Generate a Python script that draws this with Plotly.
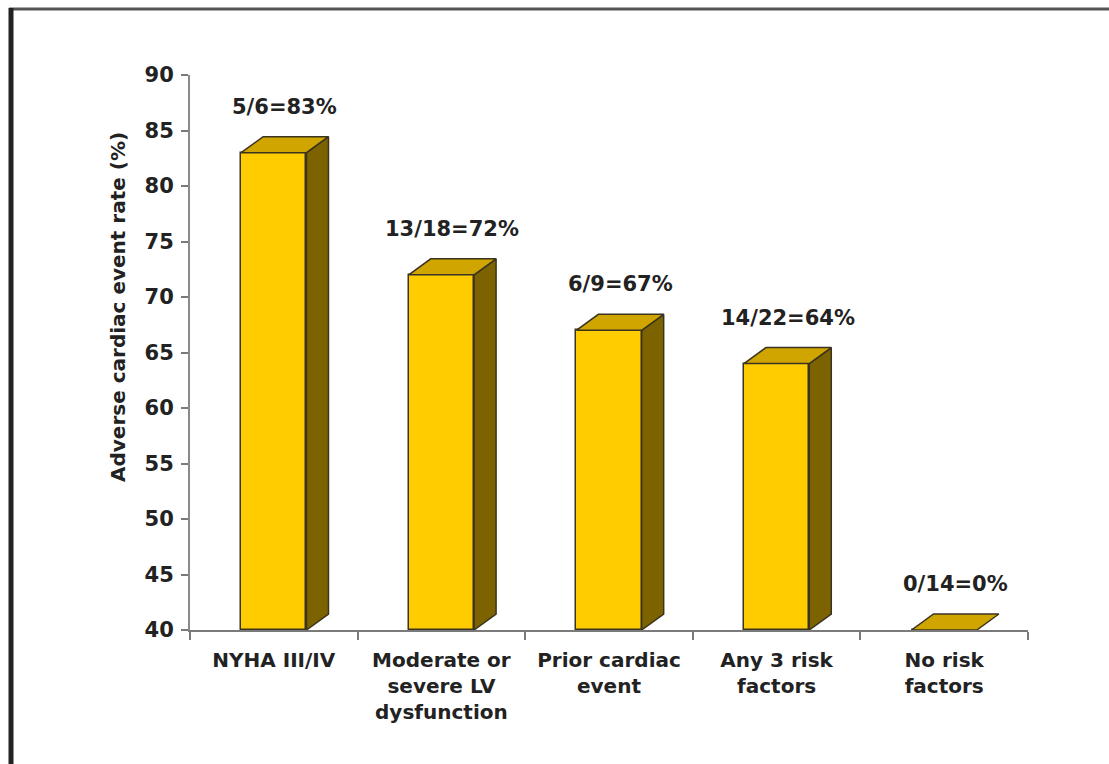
import plotly.graph_objects as go

# Data
categories = ["NYHA III/IV", "Moderate or<br>severe LV<br>dysfunction", "Prior cardiac<br>event",
              "Any 3 risk<br>factors", "No risk<br>factors"]
events = [5, 13, 6, 14, 0]
patients = [6, 18, 9, 22, 14]
rates = [83, 72, 67, 64, 0]
y_ticks = [40, 45, 50, 55, 60, 65, 70, 75, 80, 85, 90]

# Layout geometry (pixels)
W, H = 1109, 764
L, R, T, B = 190, 81, 75, 134
PW, PH = W - L - R, H - T - B
Y0, Y1 = 40, 90

FONT = "DejaVu Sans"
TXT = "#222222"
FRONT = "#FFCC00"
TOP = "#D0A500"
SIDE = "#7D6300"
EDGE = "#3a3320"

# 3D extrusion in data units
bar_w = 0.39
dx = 22 / (PW / 5)
dy = 16 / (PH / (Y1 - Y0))

fig = go.Figure()

centers = [i + 0.5 for i in range(len(categories))]
tops = [max(r, Y0) for r in rates]

# front faces
fig.add_trace(go.Bar(
    x=centers, y=[t - Y0 for t in tops], base=Y0, width=bar_w,
    marker=dict(color=FRONT, line=dict(color=EDGE, width=1.5)),
    hoverinfo="skip", showlegend=False,
))

for c, t in zip(centers, tops):
    xl, xr = c - bar_w / 2, c + bar_w / 2
    # side face
    if t > Y0:
        fig.add_trace(go.Scatter(
            x=[xr, xr + dx, xr + dx, xr, xr], y=[Y0, Y0 + dy, t + dy, t, Y0],
            mode="lines", fill="toself", fillcolor=SIDE,
            line=dict(color=EDGE, width=1.5), hoverinfo="skip", showlegend=False,
        ))
    # top face
    fig.add_trace(go.Scatter(
        x=[xl, xr, xr + dx, xl + dx, xl], y=[t, t, t + dy, t + dy, t],
        mode="lines", fill="toself", fillcolor=TOP,
        line=dict(color=EDGE, width=1.5), hoverinfo="skip", showlegend=False,
    ))

annotations = []
for c, t, n, d, r in zip(centers, tops, events, patients, rates):
    annotations.append(dict(
        x=c + dx / 2, y=t + dy, xref="x", yref="y", yanchor="bottom",
        yshift=16, text=f"{n}/{d}={r}%", showarrow=False,
        font=dict(family=FONT, size=21, color=TXT, weight="bold"),
    ))

# y-axis title placed as free text
annotations.append(dict(
    x=(118 - L) / PW, y=(H - B - 307) / PH, xref="paper", yref="paper",
    xanchor="center", yanchor="middle",
    text="Adverse cardiac event rate (%)", textangle=-90, showarrow=False,
    font=dict(family=FONT, size=20, color=TXT, weight="bold"),
))


def px_x(p):
    return (p - L) / PW


def px_y(p):
    return (H - B - p) / PH


shapes = [
    # outer frame: top rule and heavy left rule
    dict(type="line", xref="paper", yref="paper", x0=px_x(9), x1=px_x(W + 5),
         y0=px_y(9), y1=px_y(9), line=dict(color="#555555", width=3)),
    dict(type="line", xref="paper", yref="paper", x0=px_x(11), x1=px_x(11),
         y0=px_y(8), y1=px_y(H + 5), line=dict(color="#222222", width=5)),
]

fig.update_layout(
    width=W, height=H,
    margin=dict(l=L, r=R, t=T, b=B),
    paper_bgcolor="white", plot_bgcolor="white",
    bargap=0,
    annotations=annotations, shapes=shapes,
    font=dict(family=FONT, color=TXT),
    xaxis=dict(
        range=[0, 5], tickmode="array", tickvals=centers, ticktext=categories,
        ticks="", showgrid=False, zeroline=False,
        showline=True, linecolor="#7a7a7a", linewidth=2,
        tickfont=dict(family=FONT, size=20, color=TXT, weight="bold"),
        ticklabelstandoff=11,
        minor=dict(tickmode="array", tickvals=[0, 1, 2, 3, 4, 5], ticks="outside",
                   ticklen=8, tickwidth=2, tickcolor="#7a7a7a", showgrid=False),
    ),
    yaxis=dict(
        range=[Y0, Y1], tickmode="array", tickvals=y_ticks,
        ticks="outside", ticklen=7, tickwidth=2, tickcolor="#7a7a7a",
        showgrid=False, zeroline=False,
        showline=True, linecolor="#8a8a8a", linewidth=2,
        tickfont=dict(family=FONT, size=21, color=TXT, weight="bold"),
        ticklabelstandoff=3,
    ),
)

fig.write_html("out.html")
